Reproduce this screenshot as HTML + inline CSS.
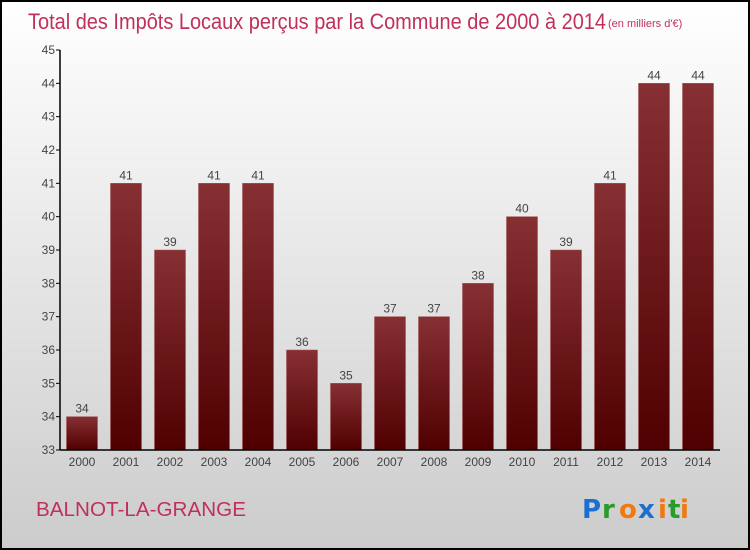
<!DOCTYPE html>
<html><head><meta charset="utf-8"><style>
body{margin:0}
#c{position:relative;width:746px;height:546px;border:2px solid #000;background:linear-gradient(#fff,#ccc);font-family:"Liberation Sans",sans-serif;overflow:hidden}
</style></head><body>
<div id="c">
<svg id="s" width="746" height="546" style="position:absolute;left:0;top:0">
<defs><linearGradient id="g" x1="0" y1="0" x2="0" y2="1"><stop offset="0" stop-color="#873034"/><stop offset="1" stop-color="#500000"/></linearGradient></defs>
<text x="26" y="27" font-size="22" fill="#c0305a" font-weight="normal" textLength="578" lengthAdjust="spacingAndGlyphs">Total des Impôts Locaux perçus par la Commune de 2000 à 2014</text>
<text x="606" y="25" font-size="11" fill="#c0305a">(en milliers d'€)</text>
<text x="34" y="514" font-size="20" fill="#c0305a" textLength="210" lengthAdjust="spacingAndGlyphs">BALNOT-LA-GRANGE</text>
<g font-size="26" font-weight="bold" font-family="'DejaVu Sans',sans-serif">
<text x="580" y="516" fill="#1a6fd0">P</text><text x="600" y="516" fill="#2a9a2a">r</text><text x="617" y="516" fill="#f07a10">o</text><text x="636" y="516" fill="#1a6fd0">x</text><text x="656" y="516" fill="#f07a10">i</text><text x="666" y="516" fill="#2a9a2a">t</text><text x="678" y="516" fill="#f07a10">i</text>
</g>
</svg>
</div>
<script>
const years=["2000","2001","2002","2003","2004","2005","2006","2007","2008","2009","2010","2011","2012","2013","2014"];
const values=[34,41,39,41,41,36,35,37,37,38,40,39,41,44,44];
const yTicks=[33,34,35,36,37,38,39,40,41,42,43,44,45];
const s=document.getElementById('s'),NS="http://www.w3.org/2000/svg";
const x0=58,x1=718,yTop=48,yBot=448,ymin=33,ymax=45;
const y=v=>yBot-(v-ymin)/(ymax-ymin)*(yBot-yTop);
const slot=(x1-x0)/years.length;
function el(t,a,p){const e=document.createElementNS(NS,t);for(const k in a)e.setAttribute(k,a[k]);(p||s).appendChild(e);return e;}
yTicks.forEach(t=>{
 const l=el('line',{x1:x0-4,x2:x0,y1:y(t),y2:y(t),stroke:'#000'});
 
 
 const tx=el('text',{x:x0-5,y:y(t)+4,'font-size':12,fill:'#444','text-anchor':'end'});
 tx.textContent=t;
 
 
});
values.forEach((v,i)=>{
 const cx=x0+slot*(i+0.5);
 const r=el('rect',{x:cx-15.5,y:y(v),width:31,height:yBot-y(v),fill:'url(#g)',stroke:'#a05050','stroke-width':0.5});
 
 
 const t=el('text',{x:cx,y:y(v)-4,'font-size':12,fill:'#444','text-anchor':'middle'});
 t.textContent=v;
 
 
 const xl=el('text',{x:cx,y:yBot+16,'font-size':12,fill:'#444','text-anchor':'middle'});
 xl.textContent=years[i];
 
 
});
const ya=el('line',{x1:x0,x2:x0,y1:yTop,y2:yBot,stroke:'#000','stroke-width':1.5});


const xa=el('line',{x1:x0,x2:x1,y1:yBot,y2:yBot,stroke:'#000','stroke-width':1.5});


</script>
</body></html>
